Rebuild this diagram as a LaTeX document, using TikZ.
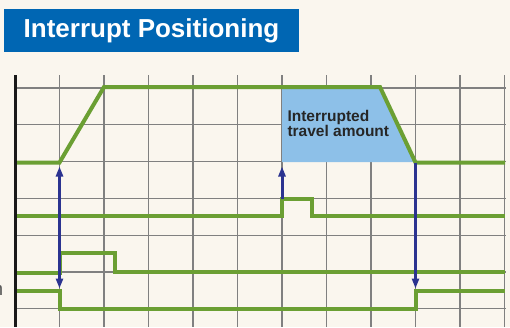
\documentclass[tikz,border=0pt]{standalone}
\usepackage{fontspec}
\setmainfont{Liberation Sans}
\usetikzlibrary{arrows.meta}
\definecolor{cream}{HTML}{FAF6EE}
\definecolor{gridgray}{HTML}{808080}
\definecolor{signal}{HTML}{6B9F33}
\definecolor{navy}{HTML}{2B3390}
\definecolor{amount}{HTML}{8DC0E8}
\definecolor{titleblue}{HTML}{0066B3}
\tikzset{
  sig/.style={signal, line width=4pt},
  trig/.style={navy, line width=3pt},
  tip/.tip={Triangle[width=7pt,length=10pt]}
}

\begin{document}
\begin{tikzpicture}[x=1pt,y=-1pt]
\fill[cream] (0,0) rectangle (510,327);
\useasboundingbox (0,0) rectangle (510,327);
\node[fill=titleblue, text=white, font=\bfseries\fontsize{26}{30}\selectfont,
  minimum width=295pt, minimum height=43pt, inner sep=0] (title) at (151.5,30.5) {Interrupt Positioning};
\foreach \x in {0,...,10}
\draw[gridgray, line width=1.3pt] (59.5+44.5*\x,75) -- (59.5+44.5*\x,327);
\foreach \y in {0,...,6}
\draw[gridgray, line width=1.3pt] (15,88+36.8*\y) -- (505.5,88+36.8*\y);
%\fill[amount] (282,87) rectangle (415.5,162);
\fill[amount] (282,87) -- (380,87) -- (415.5,162) -- (282,162) -- cycle;
\node[anchor=north west, inner sep=0, align=left, text=black!85,
  font=\bfseries\fontsize{15.5}{14.7}\selectfont] (amt) at (287.3,110.5) {Interrupted\\travel amount};
\node[anchor=base east, inner sep=0, text=black!65, font=\fontsize{19}{19}\selectfont] (cut) at (3.3,295.5) {n};
\draw[sig] (15,162.5) -- (59.5,162.5) -- (104,87) -- (380,87) -- (415.5,162.5) -- (505,162.5);
\draw[sig] (15,216) -- (282,216) -- (282,199) -- (312,199) -- (312,216) -- (505,216);
\draw[sig] (15,273) -- (59.5,273) -- (59.5,253) -- (115,253) -- (115,272) -- (505,272);
\draw[sig] (15,290.5) -- (59.5,290.5) -- (59.5,309) -- (415.5,309) -- (415.5,290.5) -- (505,290.5);
\draw[black!90, line width=3pt] (15.5,75) -- (15.5,327);
\coordinate (start) at (59.5,166.5);
\coordinate (latch) at (59.5,288.5);
\coordinate (intr) at (282,199);
\coordinate (intrtop) at (282,166.5);
\coordinate (stop) at (415.5,163);
\coordinate (done) at (415.5,288.5);
\draw[trig, tip-tip] (latch) -- (start);
\draw[trig, -tip] (intr) -- (intrtop);
\draw[trig, -tip] (stop) -- (done);
\end{tikzpicture}
\end{document}
